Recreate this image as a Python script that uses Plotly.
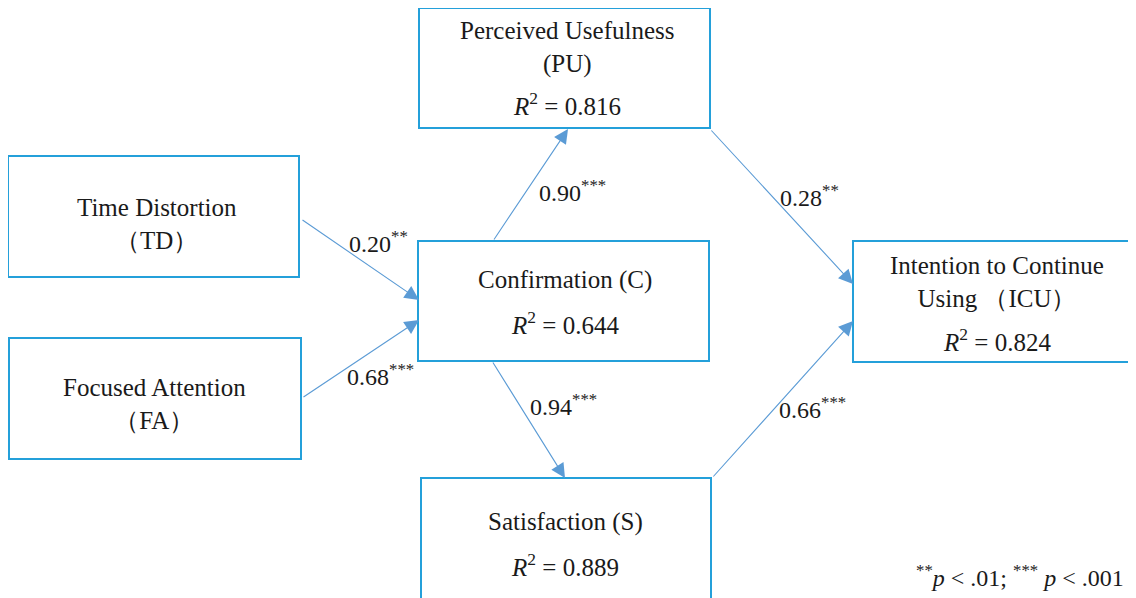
import plotly.graph_objects as go

# ---------------- data ----------------
node_ids = ["TD", "FA", "C", "PU", "S", "ICU"]
node_names = [
    "Time Distortion<br>（TD）",
    "Focused Attention<br>（FA）",
    "Confirmation (C)",
    "Perceived Usefulness<br>(PU)",
    "Satisfaction (S)",
    "Intention to Continue<br>Using （ICU）",
]
node_r2 = [None, None, 0.644, 0.816, 0.889, 0.824]

path_from = ["TD", "FA", "C", "C", "PU", "S"]
path_to = ["C", "C", "PU", "S", "ICU", "ICU"]
path_coef = [0.20, 0.68, 0.90, 0.94, 0.28, 0.66]
path_sig = ["**", "***", "***", "***", "**", "***"]

footnote = "<sup>**</sup><i>p</i> &lt; .01; <sup>***</sup> <i>p</i> &lt; .001"

# ---------------- layout (pixel geometry) ----------------
W, H = 1136, 598
OFF = 8  # page body margin
box = {  # x0, y0, x1, y1
    "TD": (8, 156, 299, 277),
    "FA": (9, 338, 301, 459),
    "C": (418, 241, 709, 361),
    "PU": (419, 8, 710, 128),
    "S": (421, 478, 711, 610),
    "ICU": (853, 241, 1134, 362),
}
name_pos = {  # x center, y center of the name block
    "TD": (157, 224),
    "FA": (154, 404),
    "C": (565, 280),
    "PU": (567, 47),
    "S": (565, 522),
    "ICU": (997, 282),
}
r2_pos = {
    "C": (565, 323),
    "PU": (567, 104),
    "S": (565, 565),
    "ICU": (997, 340),
}
arrow_geom = {  # tail (ax, ay), head (x, y)
    ("TD", "C"): ((301, 219), (419, 300)),
    ("FA", "C"): ((302, 398), (419, 320)),
    ("C", "PU"): ((493, 241), (568, 129)),
    ("C", "S"): ((492, 361), (565, 478)),
    ("PU", "ICU"): ((710, 129), (853, 284)),
    ("S", "ICU"): ((712, 478), (853, 321)),
}
coef_pos = {  # left x, center y
    ("TD", "C"): (347, 242),
    ("FA", "C"): (345, 375),
    ("C", "PU"): (537, 191),
    ("C", "S"): (528, 405),
    ("PU", "ICU"): (778, 196),
    ("S", "ICU"): (777, 408),
}

BOX_COLOR = "#24a0da"
ARROW_COLOR = "#5b9bd5"
FONT = "Times New Roman, Liberation Serif, serif"
TXT = "#1a1a1a"

fig = go.Figure()
fig.add_trace(go.Scatter(x=[OFF, W + OFF], y=[OFF, H + OFF], mode="markers",
                         marker=dict(opacity=0), hoverinfo="skip", showlegend=False))

shapes = []
for nid in node_ids:
    x0, y0, x1, y1 = box[nid]
    shapes.append(dict(type="rect", xref="x", yref="y", x0=x0, y0=y0, x1=x1, y1=y1,
                       line=dict(color=BOX_COLOR, width=2), fillcolor="rgba(0,0,0,0)"))

annotations = []
for nid, name, r2 in zip(node_ids, node_names, node_r2):
    cx, cy = name_pos[nid]
    annotations.append(dict(x=cx, y=cy, xref="x", yref="y", text=name, showarrow=False,
                            xanchor="center", yanchor="middle",
                            font=dict(family=FONT, size=25, color=TXT)))
    if r2 is not None:
        rx, ry = r2_pos[nid]
        annotations.append(dict(x=rx, y=ry, xref="x", yref="y",
                                text=f"<i>R</i><sup>2</sup> = {r2:.3f}", showarrow=False,
                                xanchor="center", yanchor="middle",
                                font=dict(family=FONT, size=25, color=TXT)))

for f, t, c, s in zip(path_from, path_to, path_coef, path_sig):
    (ax, ay), (hx, hy) = arrow_geom[(f, t)]
    annotations.append(dict(x=hx, y=hy, ax=ax, ay=ay, xref="x", yref="y",
                            axref="x", ayref="y", text="", showarrow=True,
                            arrowhead=2, arrowsize=2.6, arrowwidth=1.1,
                            arrowcolor=ARROW_COLOR, standoff=0, startstandoff=0))
    lx, ly = coef_pos[(f, t)]
    annotations.append(dict(x=lx, y=ly, xref="x", yref="y",
                            text=f"{c:.2f}<sup>{s}</sup>", showarrow=False,
                            xanchor="left", yanchor="middle",
                            font=dict(family=FONT, size=24, color=TXT)))

annotations.append(dict(x=1126, y=576, xref="x", yref="y", text=footnote, showarrow=False,
                        xanchor="right", yanchor="middle",
                        font=dict(family=FONT, size=24, color=TXT)))

fig.update_layout(
    width=W, height=H, margin=dict(l=0, r=0, t=0, b=0),
    paper_bgcolor="white", plot_bgcolor="white",
    xaxis=dict(range=[OFF, W + OFF], visible=False, fixedrange=True),
    yaxis=dict(range=[H + OFF, OFF], visible=False, fixedrange=True),
    shapes=shapes, annotations=annotations, showlegend=False,
)
fig.write_html("out.html")
